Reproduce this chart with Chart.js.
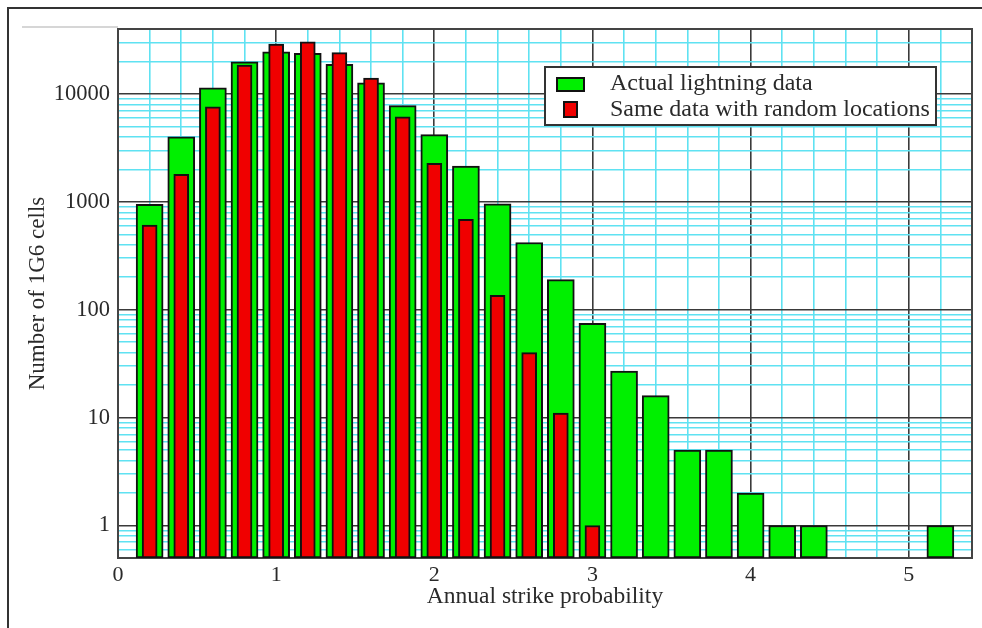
<!DOCTYPE html>
<html>
<head>
<meta charset="utf-8">
<script src="https://cdn.jsdelivr.net/npm/chart.js@4.4.1/dist/chart.umd.min.js"></script>
<style>
  html, body { margin: 0; padding: 0; background: #ffffff; }
  #wrap { width: 982px; height: 628px; position: relative; }
</style>
</head>
<body>
<div id="wrap"><canvas id="c" width="982" height="628"></canvas></div>
<script>
// ---- data ----
const probBins = [0.2, 0.4, 0.6, 0.8, 1.0, 1.2, 1.4, 1.6, 1.8, 2.0, 2.2, 2.4, 2.6,
                  2.8, 3.0, 3.2, 3.4, 3.6, 3.8, 4.0, 4.2, 4.4, 4.6, 4.8, 5.0, 5.2];
const actualCounts = [950, 4000, 11400, 19800, 24600, 23800, 18800, 12700, 7800, 4200, 2150, 960, 420,
                      190, 75, 27, 16, 5, 5, 2, 1, 1, null, null, null, 1];
const randomCounts = [610, 1800, 7600, 18500, 29000, 30500, 24200, 14000, 6150, 2280, 690, 136, 40,
                      11, 1, null, null, null, null, null, null, null, null, null, null, null];
const seriesNames = ['Actual lightning data', 'Same data with random locations'];
const xTickLabels = ['0', '1', '2', '3', '4', '5'];
const yTickLabels = ['1', '10', '100', '1000', '10000'];
const xTitle = 'Annual strike probability';
const yTitle = 'Number of 1G6 cells';

// ---- helpers ----
function points(vals) {
  const out = [];
  vals.forEach((v, i) => { if (v !== null) out.push({ x: probBins[i], y: v }); });
  return out;
}
function isIntX(v) { return Math.abs(v - Math.round(v)) < 1e-6; }
function isDecade(v) { const l = Math.log10(v); return Math.abs(l - Math.round(l)) < 1e-6; }

const FONT = 'Liberation Serif';
const TXT = '#2a2a2a';
const CYAN = '#5fe2f2';
const MAJ = '#3a3a3a';

const framePlugin = {
  id: 'framePlugin',
  beforeDatasetsDraw(chart) {
    const { ctx, chartArea: a } = chart;
    ctx.save();
    ctx.strokeStyle = '#444';
    ctx.lineWidth = 2;
    ctx.strokeRect(a.left, a.top, a.right - a.left, a.bottom - a.top);
    ctx.restore();
  },
  afterDraw(chart) {
    const { ctx, chartArea: a } = chart;
    ctx.save();
    // outer page border (top & left visible)
    ctx.strokeStyle = '#333';
    ctx.lineWidth = 2;
    ctx.beginPath();
    ctx.moveTo(982, 8); ctx.lineTo(8, 8); ctx.lineTo(8, 628);
    ctx.stroke();
    // faint line extending the top frame
    ctx.strokeStyle = '#c8c8c8';
    ctx.lineWidth = 1.5;
    ctx.beginPath();
    ctx.moveTo(22, a.top - 2); ctx.lineTo(a.left, a.top - 2);
    ctx.stroke();

    // legend box
    const ds = chart.data.datasets;
    const bx = 545, by = 67, bw = 391, bh = 58;
    ctx.fillStyle = '#ffffff';
    ctx.fillRect(bx, by, bw, bh);
    ctx.strokeStyle = '#333';
    ctx.lineWidth = 2;
    ctx.strokeRect(bx, by, bw, bh);
    // swatches
    ctx.lineWidth = 2;
    ctx.fillStyle = ds[0].backgroundColor; ctx.strokeStyle = '#111';
    ctx.fillRect(557, 78, 27, 13); ctx.strokeRect(557, 78, 27, 13);
    ctx.fillStyle = ds[1].backgroundColor;
    ctx.fillRect(564, 102, 13, 15); ctx.strokeRect(564, 102, 13, 15);
    ctx.fillStyle = TXT;
    ctx.font = '24px "' + FONT + '"';
    ctx.textBaseline = 'middle';
    ctx.textAlign = 'left';
    ctx.fillText(ds[0].label, 610, 84);
    ctx.fillText(ds[1].label, 610, 110);
    ctx.restore();
  }
};

const ctx = document.getElementById('c').getContext('2d');
new Chart(ctx, {
  type: 'bar',
  data: {
    datasets: [
      {
        label: seriesNames[0],
        data: points(actualCounts),
        backgroundColor: '#00f000',
        borderColor: '#111',
        borderWidth: 2,
        borderSkipped: false,
        barThickness: 27,
        grouped: false,
        order: 2
      },
      {
        label: seriesNames[1],
        data: points(randomCounts),
        backgroundColor: '#f00000',
        borderColor: '#111',
        borderWidth: 2,
        borderSkipped: false,
        barThickness: 15,
        grouped: false,
        order: 1
      }
    ]
  },
  options: {
    responsive: false,
    animation: false,
    devicePixelRatio: 1,
    layout: { padding: { top: 29, right: 10, left: 0, bottom: 0 } },
    plugins: { legend: { display: false }, tooltip: { enabled: false } },
    scales: {
      x: {
        type: 'linear',
        min: 0,
        max: 5.4,
        offset: false,
        afterFit(s) { s.height = 70; },
        ticks: {
          stepSize: 0.2,
          autoSkip: false,
          maxRotation: 0,
          padding: 4,
          color: TXT,
          font: { family: FONT, size: 22 },
          callback(v) { return isIntX(v) ? xTickLabels[Math.round(v)] : ''; }
        },
        grid: {
          offset: false,
          drawTicks: false,
          color: c => (c.tick && isIntX(c.tick.value)) ? MAJ : CYAN,
          lineWidth: 1.6
        },
        border: { display: true, color: '#444', width: 2 },
        title: {
          display: true, text: xTitle, color: TXT,
          font: { family: FONT, size: 23.5 },
          padding: { top: 0, bottom: 17 }
        }
      },
      y: {
        type: 'logarithmic',
        min: 0.5,
        max: 40000,
        afterFit(s) { s.width = 118; },
        afterBuildTicks(s) {
          const t = [];
          for (let e = -1; e <= 4; e++) {
            for (let m = 1; m <= 9; m++) {
              const v = +(m * Math.pow(10, e)).toFixed(6);
              if (v >= 0.5 && v <= 40000) t.push({ value: v });
            }
          }
          s.ticks = t;
        },
        ticks: {
          autoSkip: false,
          padding: 8,
          color: TXT,
          font: { family: FONT, size: 22.5 },
          callback(v) {
            if (!isDecade(v) || v < 1) return '';
            return yTickLabels[Math.round(Math.log10(v))];
          }
        },
        grid: {
          drawTicks: false,
          color: c => (c.tick && isDecade(c.tick.value)) ? MAJ : CYAN,
          lineWidth: 1.6
        },
        border: { display: true, color: '#444', width: 2 },
        title: {
          display: true, text: yTitle, color: TXT,
          font: { family: FONT, size: 23 },
          padding: { top: 24, bottom: 0 }
        }
      }
    }
  },
  plugins: [framePlugin]
});
</script>
</body>
</html>
